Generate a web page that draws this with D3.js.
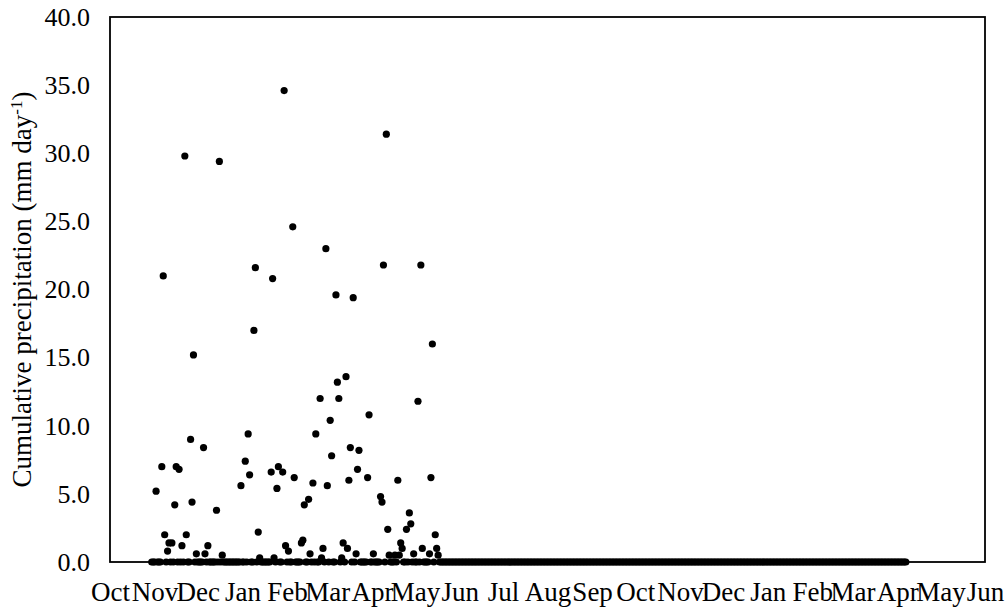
<!DOCTYPE html>
<html>
<head>
<meta charset="utf-8">
<script src="https://cdn.jsdelivr.net/npm/d3@7"></script>
<style>
  body { margin: 0; background: #fff; }
  svg text { font-family: "Liberation Serif", "Times New Roman", "DejaVu Serif", serif; fill: #000; }
</style>
</head>
<body>
<div id="chart-area"></div>
<script>
// rainy days (everything else inside the record is 0 mm)
var wetDates = [
  "2017-11-02", "2017-11-06", "2017-11-07", "2017-11-08", "2017-11-10", "2017-11-11",
  "2017-11-13", "2017-11-15", "2017-11-16", "2017-11-18", "2017-11-20", "2017-11-22",
  "2017-11-23", "2017-11-26", "2017-11-27", "2017-11-28", "2017-11-30", "2017-12-05",
  "2017-12-06", "2017-12-08", "2017-12-14", "2017-12-16", "2017-12-18", "2017-12-31",
  "2018-01-03", "2018-01-05", "2018-01-06", "2018-01-09", "2018-01-10", "2018-01-12",
  "2018-01-13", "2018-01-21", "2018-01-22", "2018-01-23", "2018-01-25", "2018-01-26",
  "2018-01-29", "2018-01-30", "2018-01-31", "2018-02-02", "2018-02-05", "2018-02-06",
  "2018-02-11", "2018-02-12", "2018-02-13", "2018-02-16", "2018-02-17", "2018-02-19",
  "2018-02-21", "2018-02-24", "2018-02-25", "2018-02-26", "2018-02-28", "2018-03-01",
  "2018-03-03", "2018-03-04", "2018-03-07", "2018-03-08", "2018-03-09", "2018-03-11",
  "2018-03-12", "2018-03-14", "2018-03-15", "2018-03-16", "2018-03-17", "2018-03-19",
  "2018-03-21", "2018-03-22", "2018-03-23", "2018-03-29", "2018-03-30", "2018-04-02",
  "2018-04-07", "2018-04-08", "2018-04-09", "2018-04-11", "2018-04-12", "2018-04-13",
  "2018-04-17", "2018-04-19", "2018-04-20", "2018-04-21", "2018-04-22", "2018-04-25",
  "2018-04-27", "2018-04-28", "2018-04-30", "2018-05-03", "2018-05-05", "2018-05-06",
  "2018-05-11", "2018-05-12", "2018-05-13", "2018-05-15", "2018-05-16", "2018-05-17"
];
var wetValues = [
  5.2, 7.0, 21.0, 2.0, 0.8, 1.4,
  1.4, 4.2, 7.0, 6.8, 1.2, 29.8,
  2.0, 9.0, 4.4, 15.2, 0.6, 8.4,
  0.6, 1.2, 3.8, 29.4, 0.5, 5.6,
  7.4, 9.4, 6.4, 17.0, 21.6, 2.2,
  0.3, 6.6, 20.8, 0.3, 5.4, 7.0,
  6.6, 34.6, 1.2, 0.8, 24.6, 6.2,
  1.4, 1.6, 4.2, 4.6, 0.6, 5.8,
  9.4, 12.0, 0.3, 1.0, 23.0, 5.6,
  10.4, 7.8, 19.6, 13.2, 12.0, 0.3,
  1.4, 13.6, 1.0, 6.0, 8.4, 19.4,
  0.6, 6.8, 8.2, 6.2, 10.8, 0.6,
  4.8, 4.4, 21.8, 31.4, 2.4, 0.5,
  0.5, 6.0, 0.5, 1.4, 1.0, 2.4,
  3.6, 2.8, 0.6, 11.8, 21.8, 1.0,
  0.6, 6.2, 16.0, 2.0, 1.0, 0.5
];
var recordPeriod = ["2017-10-30", "2019-04-07"];
var axisPeriod = ["2017-10-01", "2019-06-01"];
var yTicks = [0, 5, 10, 15, 20, 25, 30, 35, 40];

var serif = "'Liberation Serif', 'Times New Roman', 'DejaVu Serif', serif";

var margin = { top: 17, right: 23, bottom: 47, left: 110 };
var width = 1008 - margin.left - margin.right;
var height = 609 - margin.top - margin.bottom;

var parse = d3.utcParse("%Y-%m-%d");

var svg = d3.select("#chart-area")
    .append("svg")
    .attr("width", 1008)
    .attr("height", 609)
    .style("font-family", serif);

svg.append("rect")
    .attr("width", 1008)
    .attr("height", 609)
    .attr("fill", "#fff");

var g = svg.append("g")
    .attr("transform", "translate(" + margin.left + "," + margin.top + ")");

var x = d3.scaleUtc()
    .domain(axisPeriod.map(parse))
    .range([0, width]);

var y = d3.scaleLinear()
    .domain([0, 40])
    .range([height, 0]);

// one point per day of the record
var wetLookup = {};
wetDates.forEach(function(d, i) {
    wetLookup[d] = wetValues[i];
});
var fmtDay = d3.utcFormat("%Y-%m-%d");
var days = d3.utcDay.range(parse(recordPeriod[0]), d3.utcDay.offset(parse(recordPeriod[1]), 1));
var points = days.map(function(d) {
    var key = fmtDay(d);
    return { date: d, value: wetLookup[key] != null ? wetLookup[key] : 0 };
});

var xAxisCall = d3.axisBottom(x)
    .tickValues(d3.utcMonth.range(x.domain()[0], d3.utcDay.offset(x.domain()[1], 1)))
    .tickFormat(d3.utcFormat("%b"))
    .tickSize(0)
    .tickPadding(20);

var yAxisCall = d3.axisLeft(y)
    .tickValues(yTicks)
    .tickFormat(d3.format(".1f"))
    .tickSize(0)
    .tickPadding(20);

var xAxisGroup = g.append("g")
    .attr("transform", "translate(0," + height + ")")
    .call(xAxisCall);
xAxisGroup.select(".domain").remove();
xAxisGroup.selectAll("text")
    .style("font-family", serif)
    .style("font-size", "27px");

var yAxisGroup = g.append("g")
    .call(yAxisCall);
yAxisGroup.select(".domain").remove();
yAxisGroup.selectAll("text")
    .style("font-family", serif)
    .style("font-size", "26px");

g.append("rect")
    .attr("width", width)
    .attr("height", height)
    .attr("fill", "none")
    .attr("stroke", "#000")
    .attr("stroke-width", 1.8);

g.selectAll("circle")
    .data(points)
    .enter()
    .append("circle")
    .attr("cx", function(d) { return x(d.date); })
    .attr("cy", function(d) { return y(d.value); })
    .attr("r", 3.6)
    .attr("fill", "#000");

var title = g.append("text")
    .attr("transform", "rotate(-90)")
    .attr("x", -(height / 2))
    .attr("y", -79)
    .attr("text-anchor", "middle")
    .style("font-family", serif)
    .style("font-size", "27px");
title.append("tspan").text("Cumulative precipitation (mm day");
title.append("tspan").style("font-size", "17px").attr("baseline-shift", "super").text("-1");
title.append("tspan").text(")");
</script>
</body>
</html>
